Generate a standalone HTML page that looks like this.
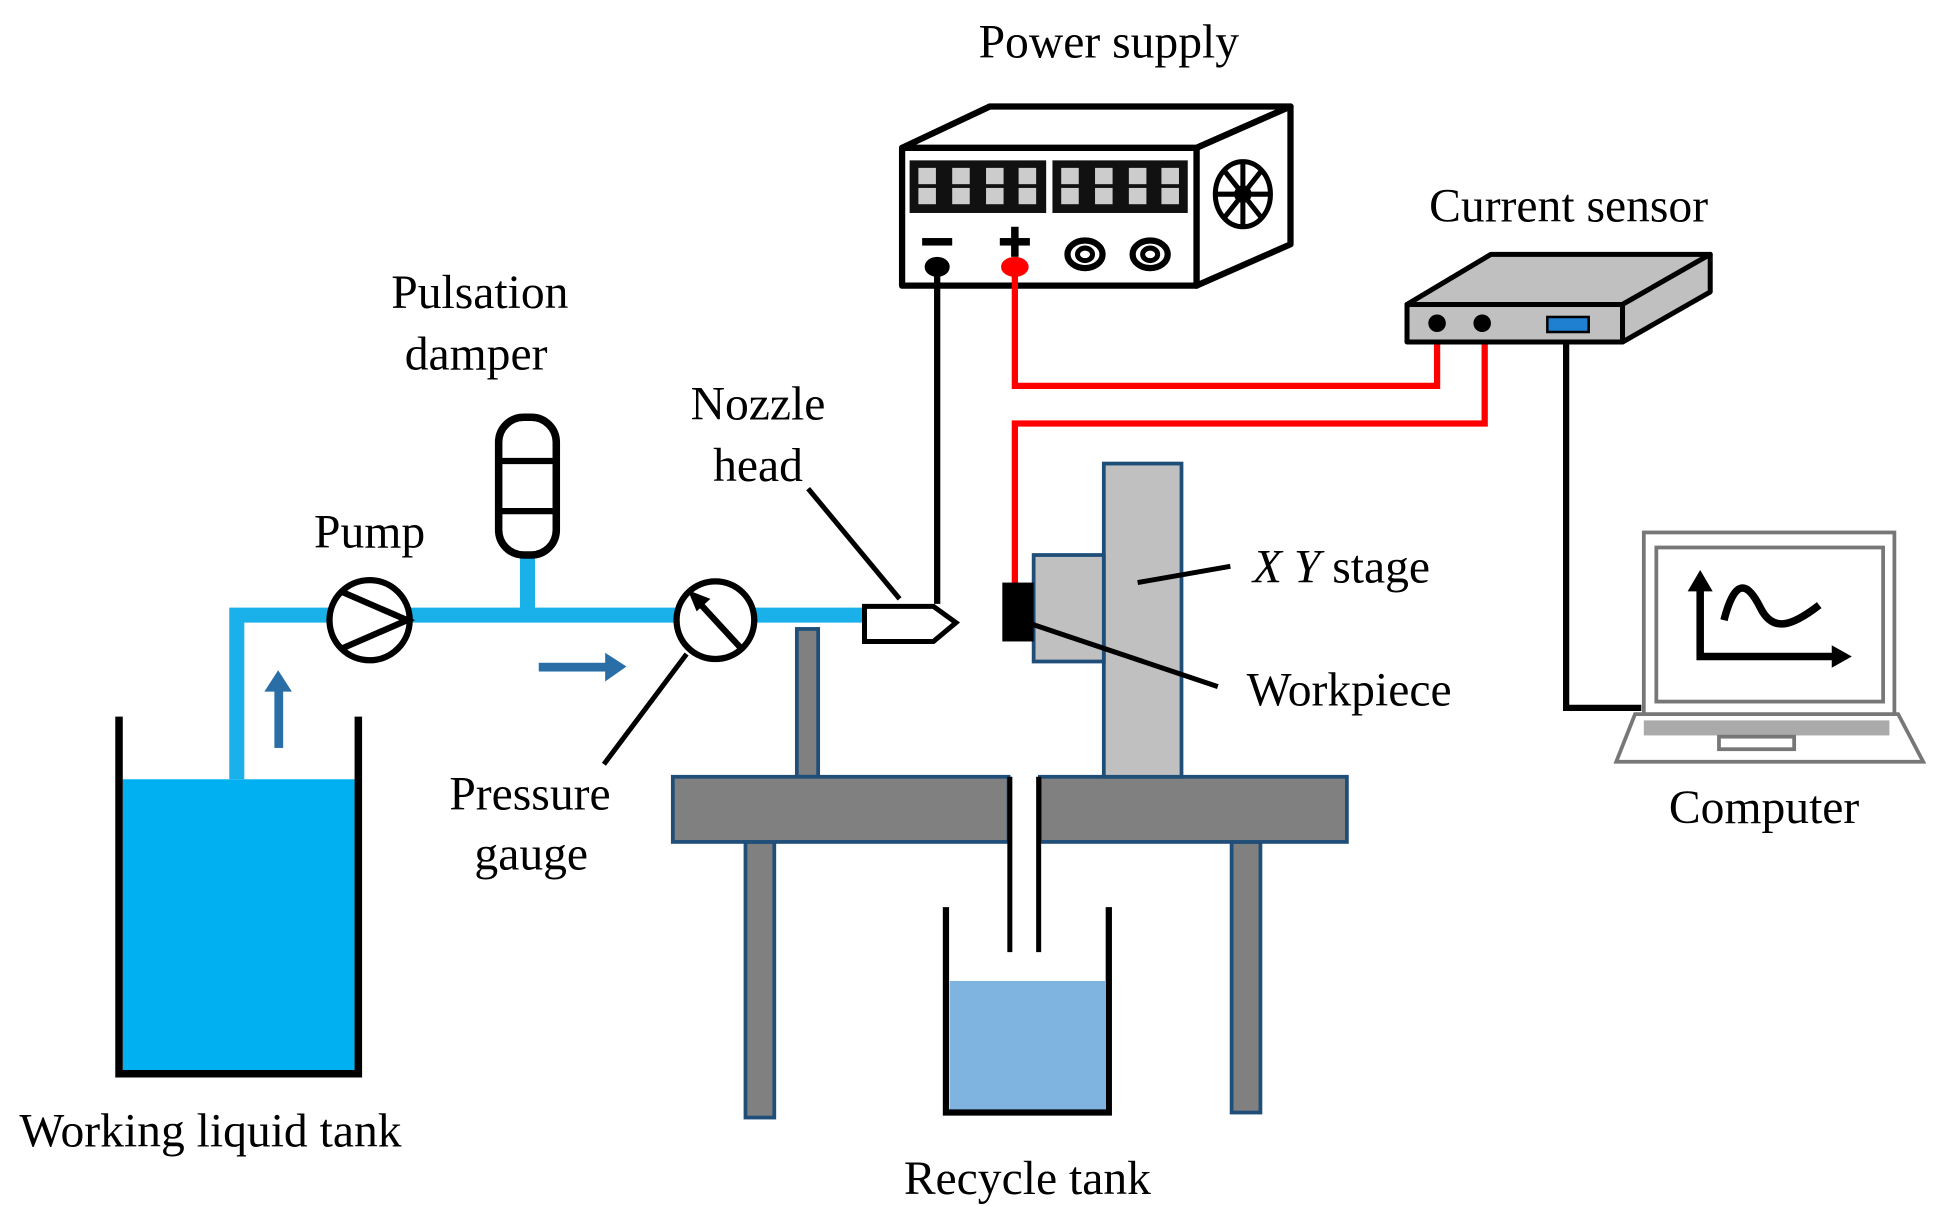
<!DOCTYPE html>
<html><head><meta charset="utf-8"><style>
html,body{margin:0;padding:0;background:#fff;}
svg{display:block;}
text{font-family:"Liberation Serif",serif;font-size:38px;fill:#000;}
</style></head><body>
<svg width="1942" height="1206" viewBox="0 0 1550 962.6" preserveAspectRatio="none" xmlns="http://www.w3.org/2000/svg">
<text x="885" y="46" text-anchor="middle">Power supply</text>
<text x="1252" y="177" text-anchor="middle">Current sensor</text>
<text x="383" y="246" text-anchor="middle">Pulsation</text>
<text x="380" y="295" text-anchor="middle">damper</text>
<text x="605" y="335" text-anchor="middle">Nozzle</text>
<text x="605" y="384" text-anchor="middle">head</text>
<text x="295" y="437" text-anchor="middle">Pump</text>
<text x="1000" y="465"><tspan font-style="italic">X Y</tspan> stage</text>
<text x="995" y="563">Workpiece</text>
<text x="1408" y="657" text-anchor="middle">Computer</text>
<text x="423" y="646" text-anchor="middle">Pressure</text>
<text x="424" y="694" text-anchor="middle">gauge</text>
<text x="168" y="915" text-anchor="middle">Working liquid tank</text>
<text x="820" y="953" text-anchor="middle">Recycle  tank</text>

<g stroke="#000" stroke-width="5" fill="#fff" stroke-linejoin="round">
<polygon points="720,118 790,85 1030,85 955,118"/>
<polygon points="955,118 1030,85 1030,195 955,228"/>
<rect x="720" y="118" width="235" height="110"/>
</g>
<rect x="726" y="128" width="109" height="42" fill="#111"/>
<rect x="840" y="128" width="108" height="42" fill="#111"/>
<g fill="#ccc">
<rect x="733" y="134" width="14" height="13"/><rect x="733" y="150" width="14" height="13"/>
<rect x="760" y="134" width="14" height="13"/><rect x="760" y="150" width="14" height="13"/>
<rect x="787" y="134" width="14" height="13"/><rect x="787" y="150" width="14" height="13"/>
<rect x="813" y="134" width="14" height="13"/><rect x="813" y="150" width="14" height="13"/>
<rect x="847" y="134" width="14" height="13"/><rect x="847" y="150" width="14" height="13"/>
<rect x="874" y="134" width="14" height="13"/><rect x="874" y="150" width="14" height="13"/>
<rect x="901" y="134" width="14" height="13"/><rect x="901" y="150" width="14" height="13"/>
<rect x="927" y="134" width="14" height="13"/><rect x="927" y="150" width="14" height="13"/>
</g>
<g stroke="#000" stroke-width="4" fill="none">
<ellipse cx="992" cy="155" rx="22" ry="26"/>
<circle cx="992" cy="155" r="5"/>
<line x1="992" y1="129" x2="992" y2="181"/><line x1="970" y1="155" x2="1014" y2="155"/>
<line x1="977" y1="136" x2="1007" y2="174"/><line x1="1007" y1="136" x2="977" y2="174"/>
<ellipse cx="866" cy="203" rx="14" ry="11" stroke-width="5"/><ellipse cx="866" cy="203" rx="6" ry="5"/>
<ellipse cx="918" cy="203" rx="14" ry="11" stroke-width="5"/><ellipse cx="918" cy="203" rx="6" ry="5"/>
</g>
<rect x="736" y="190" width="24" height="6" fill="#000"/>
<rect x="798" y="190" width="24" height="6" fill="#000"/><rect x="807" y="181" width="6" height="24" fill="#000"/>
<polyline points="748,213 748,482" stroke="#000" stroke-width="5" fill="none"/>
<polyline points="810,213 810,308 1147,308 1147,258" stroke="#f00" stroke-width="5" fill="none"/>
<polyline points="810,505 810,338 1185,338 1185,258" stroke="#f00" stroke-width="5" fill="none"/>
<polyline points="1250,265 1250,565 1310,565" stroke="#000" stroke-width="5" fill="none"/>
<ellipse cx="748" cy="213" rx="10" ry="8" fill="#000"/>
<ellipse cx="810" cy="213" rx="11" ry="8" fill="#f00"/>

<g stroke="#000" stroke-width="4" fill="#c0c0c0" stroke-linejoin="round">
<polygon points="1123,243 1190,203 1365,203 1295,243"/>
<polygon points="1295,243 1365,203 1365,233 1295,273"/>
<rect x="1123" y="243" width="172" height="30"/>
</g>
<circle cx="1147" cy="258" r="7" fill="#000"/>
<circle cx="1183" cy="258" r="7" fill="#000"/>
<rect x="1235" y="253" width="33" height="12" fill="#1f7fd0" stroke="#000" stroke-width="2"/>

<g stroke="#777" stroke-width="3" fill="#fff">
<polygon points="1305,570 1515,570 1535,608 1290,608"/>
<rect x="1312" y="425" width="200" height="145"/>
<rect x="1322" y="437" width="181" height="123"/>
<rect x="1312" y="575" width="196" height="12" fill="#aaa" stroke="none"/>
<rect x="1372" y="588" width="60" height="10"/>
</g>
<g stroke="#000" stroke-width="6" fill="none">
<polyline points="1357,470 1357,524 1465,524"/>
<path d="M1376,495 C1385,460 1395,465 1405,485 C1415,505 1430,500 1452,483"/>
</g>
<polygon points="1347,472 1357,455 1367,472" fill="#000"/>
<polygon points="1462,515 1478,524 1462,533" fill="#000"/>

<rect x="98" y="622" width="185" height="234" fill="#00b0f0"/>
<polyline points="95,572 95,857 286,857 286,572" stroke="#000" stroke-width="6" fill="none"/>
<polyline points="189,622 189,491 690,491" stroke="#1ab0ea" stroke-width="12" fill="none"/>
<line x1="421" y1="443" x2="421" y2="491" stroke="#1ab0ea" stroke-width="12"/>
<rect x="398" y="333" width="46" height="110" rx="20" fill="#fff" stroke="#000" stroke-width="6"/>
<line x1="398" y1="368" x2="444" y2="368" stroke="#000" stroke-width="5"/>
<line x1="398" y1="408" x2="444" y2="408" stroke="#000" stroke-width="5"/>
<circle cx="295" cy="495" r="32" fill="#fff" stroke="#000" stroke-width="5"/>
<polyline points="272,472 325,495 272,518" stroke="#000" stroke-width="5" fill="none"/>
<circle cx="571" cy="495" r="31" fill="#fff" stroke="#000" stroke-width="5"/>
<line x1="592" y1="518" x2="557" y2="480" stroke="#000" stroke-width="5"/>
<polygon points="549,471 567,478 556,488" fill="#000"/>
<line x1="548" y1="522" x2="482" y2="610" stroke="#000" stroke-width="4"/>
<rect x="430" y="529" width="55" height="7" fill="#2a6ea8"/>
<polygon points="483,521 500,532 483,544" fill="#2a6ea8"/>
<rect x="219" y="550" width="7" height="47" fill="#2a6ea8"/>
<polygon points="211,552 222,535 233,552" fill="#2a6ea8"/>
<polygon points="690,484 745,484 763,497 745,512 690,512" fill="#fff" stroke="#000" stroke-width="4"/>
<line x1="645" y1="390" x2="718" y2="478" stroke="#000" stroke-width="4"/>

<g fill="#808080" stroke="#1f4e79" stroke-width="3">
<rect x="636" y="502" width="17" height="118"/>
<rect x="595" y="672" width="23" height="220"/>
<rect x="983" y="672" width="23" height="216"/>
<rect x="537" y="620" width="268" height="52"/>
<rect x="830" y="620" width="245" height="52"/>
</g>
<line x1="806" y1="620" x2="806" y2="760" stroke="#000" stroke-width="4"/>
<line x1="829" y1="620" x2="829" y2="760" stroke="#000" stroke-width="4"/>
<g fill="#c0c0c0" stroke="#1f4e79" stroke-width="3">
<rect x="881" y="370" width="62" height="250"/>
<rect x="825" y="443" width="56" height="85"/>
</g>
<rect x="800" y="465" width="25" height="47" fill="#000"/>
<line x1="908" y1="465" x2="982" y2="452" stroke="#000" stroke-width="4"/>
<line x1="820" y1="497" x2="972" y2="548" stroke="#000" stroke-width="4"/>
<rect x="758" y="783" width="124" height="103" fill="#7fb3e0"/>
<polyline points="755,724 755,888 885,888 885,724" stroke="#000" stroke-width="5" fill="none"/>
</svg>
</body></html>
